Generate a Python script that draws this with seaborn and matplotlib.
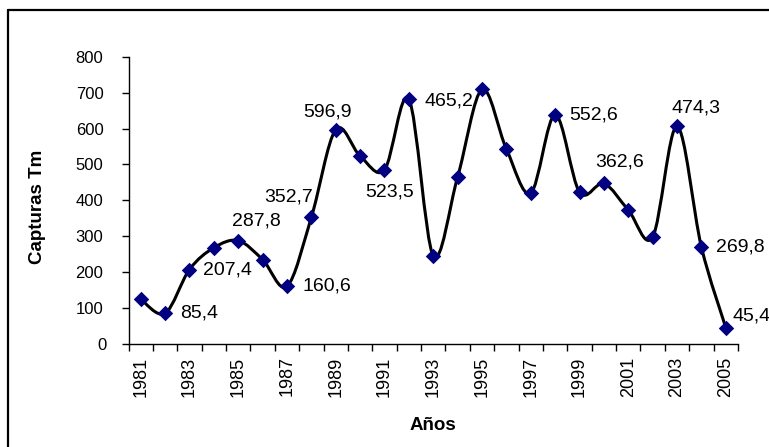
import matplotlib
matplotlib.use("Agg")
import matplotlib.pyplot as plt
from matplotlib.path import Path
from matplotlib.patches import PathPatch
from matplotlib.lines import Line2D
import matplotlib.transforms as mtransforms
import numpy as np
import pandas as pd
import seaborn as sns

# Annual catches (Tm), 1981-2005
years = list(range(1981, 2006))
catches = [125, 85.4, 207.4, 268, 287.8, 235, 160.6, 352.7, 596.9, 523.5,
           485, 682, 246, 465.2, 709, 543, 420, 638, 423, 447,
           373, 298, 606, 269.8, 45.4]

# Value labels and the year of the marker each one sits beside
label_texts = ["85,4", "207,4", "287,8", "160,6", "352,7", "596,9", "523,5",
               "465,2", "552,6", "362,6", "474,3", "269,8", "45,4"]
label_years = [1982, 1983, 1985, 1987, 1988, 1989, 1990,
               1992, 1998, 2000, 2003, 2004, 2005]

y_ticks = [0, 100, 200, 300, 400, 500, 600, 700, 800]
x_tick_labels = [str(y) for y in range(1981, 2006, 2)]

DPI = 100
sns.set_theme(style="white")
plt.rcParams["font.family"] = ["Liberation Sans", "DejaVu Sans"]

fig = plt.figure(figsize=(7.69, 4.47), dpi=DPI)
W, H = 769, 447
ax = fig.add_axes([128.5 / W, 1 - 344 / H, (738 - 128.5) / W, (344 - 56.7) / H])

df = pd.DataFrame({"idx": np.arange(len(years)), "year": years, "catch": catches})

# Smoothed line: cubic Bezier segments with Catmull-Rom style control points
pts = df[["idx", "catch"]].to_numpy(dtype=float)
ext = np.vstack([pts[0], pts, pts[-1]])
verts = [tuple(pts[0])]
codes = [Path.MOVETO]
for i in range(len(pts) - 1):
    p0, p1, p2, p3 = ext[i], ext[i + 1], ext[i + 2], ext[i + 3]
    c1 = p1 + (p2 - p0) / 6.0
    c2 = p2 - (p3 - p1) / 6.0
    verts += [tuple(c1), tuple(c2), tuple(p2)]
    codes += [Path.CURVE4] * 3
ax.add_patch(PathPatch(Path(verts, codes), facecolor="none", edgecolor="black",
                       lw=2.2, capstyle="round", joinstyle="round", zorder=2))

sns.scatterplot(data=df, x="idx", y="catch", marker="D", s=62, color="#000080",
                edgecolor="#000080", linewidth=0, ax=ax, zorder=3, legend=False)

ax.set_xlim(-0.5, len(years) - 0.5)
ax.set_ylim(0, 800)

# Spines
for side in ["top", "right"]:
    ax.spines[side].set_visible(False)
for side in ["left", "bottom"]:
    ax.spines[side].set_color("black")
    ax.spines[side].set_linewidth(1.0)

# Y axis
ax.set_yticks(y_ticks)
ax.set_yticklabels([str(v) for v in y_ticks])
ax.tick_params(axis="y", which="major", direction="out", length=5, width=1,
               color="black", pad=13, labelsize=12, labelcolor="black", left=True)

# X axis: tick marks between categories, labels on every other year
ax.set_xticks(np.arange(-0.5, len(years), 1.0))
ax.set_xticklabels([])
ax.tick_params(axis="x", which="major", direction="out", length=5, width=1,
               color="black", bottom=True)
label_idx = [years.index(int(t)) for t in x_tick_labels]
ax.set_xticks(label_idx, minor=True)
ax.set_xticklabels(x_tick_labels, minor=True, rotation=90)
ax.tick_params(axis="x", which="minor", length=0, pad=9, labelsize=13,
               labelcolor="black")
for t in ax.get_xticklabels(minor=True):
    t.set_verticalalignment("top")

# Nudge the zero label slightly right
zero_lab = ax.get_yticklabels()[0]
zero_lab.set_transform(zero_lab.get_transform() +
                       mtransforms.ScaledTranslation(3 / DPI, 0, fig.dpi_scale_trans))

ax.set_xlabel("Años", fontsize=13.5, fontweight="bold", color="black")
ax.set_ylabel("Capturas Tm", fontsize=13.5, fontweight="bold", color="black")
ax.xaxis.set_label_coords(0.5, -0.282)
ax.yaxis.set_label_coords(-0.15, 0.477)
ax.xaxis.label.set_verticalalignment("center")
ax.yaxis.label.set_verticalalignment("center")

# Value labels: (dx, dy) offsets in pixels from the marker, horizontal alignment
offsets = {
    "85,4": (15, 0, "left"),
    "207,4": (13.5, 0, "left"),
    "287,8": (18, 19.5, "center"),
    "160,6": (15.5, 0, "left"),
    "352,7": (2, 20.5, "right"),
    "596,9": (-8.5, 18, "center"),
    "523,5": (29, -36.5, "center"),
    "465,2": (15.5, -2, "left"),
    "552,6": (14.5, 0, "left"),
    "362,6": (16, 21, "center"),
    "474,3": (18.5, 18, "center"),
    "269,8": (14.5, 0, "left"),
    "45,4": (7, 11.5, "left"),
}
for txt, yr in zip(label_texts, label_years):
    dx, dy, ha = offsets[txt]
    i = years.index(yr)
    ax.annotate(txt, xy=(i, catches[i]), xytext=(dx * 72 / DPI, dy * 72 / DPI),
                textcoords="offset points", ha=ha, va="center", fontsize=14,
                color="black", annotation_clip=False, zorder=4)

# Chart frame (left and top edges within the canvas)
fig.add_artist(Line2D([8 / W, 8 / W], [0, 1 - 10 / H], transform=fig.transFigure,
                      color="black", lw=1.6))
fig.add_artist(Line2D([8 / W, 1], [1 - 10 / H, 1 - 10 / H], transform=fig.transFigure,
                      color="black", lw=1.6))

fig.savefig("out.png", dpi=DPI, facecolor="white")
